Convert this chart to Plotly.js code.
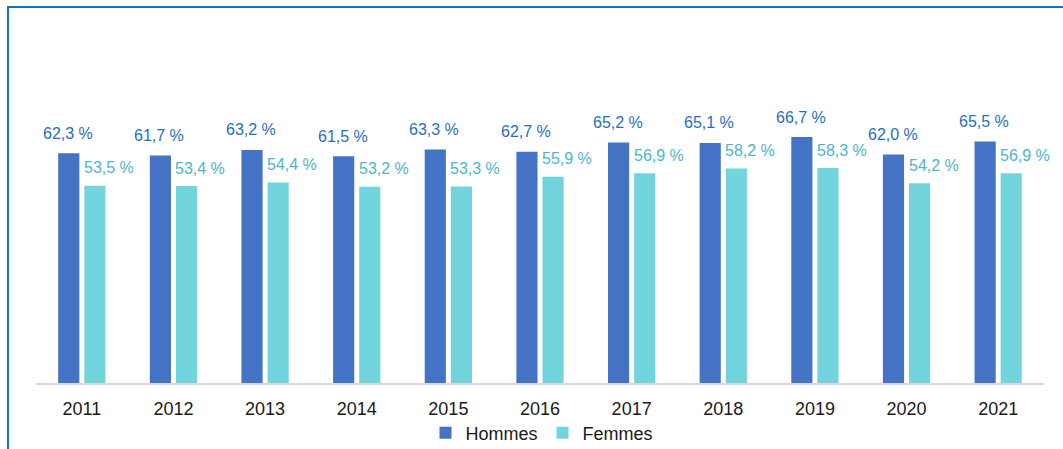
<!DOCTYPE html>
<html>
<head>
<meta charset="utf-8">
<script src="https://cdn.plot.ly/plotly-3.0.1.min.js"></script>
<style>
  html, body { margin: 0; padding: 0; background: #ffffff; }
  #chart { width: 1063px; height: 449px; position: relative; }
  #frame { position: absolute; left: 7px; top: 6px; width: 1100px; height: 500px;
           border-left: 2.5px solid #1273C4; border-top: 2.5px solid #1273C4;
           pointer-events: none; z-index: 10; }
  #wrap { position: relative; width: 1063px; height: 449px; overflow: hidden; }
</style>
</head>
<body>
<div id="wrap">
  <div id="chart"></div>
  <div id="frame"></div>
</div>
<script>
const years = ["2011","2012","2013","2014","2015","2016","2017","2018","2019","2020","2021"];
const hommes = [62.3, 61.7, 63.2, 61.5, 63.3, 62.7, 65.2, 65.1, 66.7, 62.0, 65.5];
const femmes = [53.5, 53.4, 54.4, 53.2, 53.3, 55.9, 56.9, 58.2, 58.3, 54.2, 56.9];
const seriesNames = ["Hommes", "Femmes"];

function fmt(v) { return v.toFixed(1).replace(".", ",") + " %"; }

const traces = [
  { type: "bar", name: seriesNames[0], x: years, y: hommes,
    marker: { color: "#4472C4" }, hoverinfo: "none" },
  { type: "bar", name: seriesNames[1], x: years, y: femmes,
    marker: { color: "#72D4DC" }, hoverinfo: "none" }
];

const annotations = [];
years.forEach((yr, i) => {
  annotations.push({ x: i, y: hommes[i], xref: "x", yref: "y", text: fmt(hommes[i]),
    showarrow: false, xanchor: "center", yanchor: "middle", xshift: -14, yshift: 20,
    font: { family: "Liberation Sans, Arial, sans-serif", size: 16, color: "#1F6FC5" } });
  annotations.push({ x: i, y: femmes[i], xref: "x", yref: "y", text: fmt(femmes[i]),
    showarrow: false, xanchor: "center", yanchor: "middle", xshift: 27, yshift: 18,
    font: { family: "Liberation Sans, Arial, sans-serif", size: 16, color: "#4DB5CA" } });
});

const layout = {
  width: 1063, height: 449,
  margin: { l: 36, r: 19, t: 88, b: 66, autoexpand: false },
  paper_bgcolor: "#ffffff", plot_bgcolor: "#ffffff",
  barmode: "group", bargap: 0.43, bargroupgap: 0.19,
  font: { family: "Liberation Sans, Arial, sans-serif", size: 18, color: "#1a1a1a" },
  xaxis: { type: "category", range: [-0.5, years.length - 0.5], autorange: false,
           showline: true, linecolor: "#D9D9D9", linewidth: 2,
           ticks: "", showgrid: false, zeroline: false, automargin: false,
           tickfont: { size: 18, color: "#1a1a1a" }, ticklabelstandoff: 8 },
  yaxis: { range: [0, 80], autorange: false, visible: false, showgrid: false, zeroline: false },
  showlegend: true,
  legend: { orientation: "h", x: 0.502, xanchor: "center", y: -0.17, yanchor: "middle",
            font: { size: 18, color: "#1a1a1a" }, itemwidth: 30, tracegroupgap: 0 },
  annotations: annotations
};

Plotly.newPlot("chart", traces, layout, { displayModeBar: false, staticPlot: true });
</script>
</body>
</html>
